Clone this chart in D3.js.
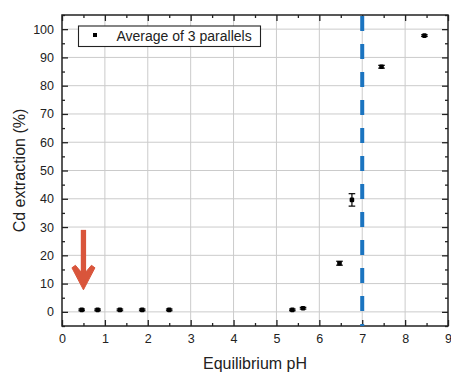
<!DOCTYPE html>
<html>
<head>
<meta charset="utf-8">
<script src="https://cdn.jsdelivr.net/npm/d3@7"></script>
<style>
  body { margin: 0; background: #fff; }
  svg { display: block; font-family: "Liberation Sans", Arial, sans-serif; }
</style>
</head>
<body>
<svg id="chart" width="451" height="373"></svg>
<script>
// data
var phValues = [0.46, 0.83, 1.35, 1.87, 2.50, 5.37, 5.62, 6.47, 6.76, 7.45, 8.45];
var cdExtraction = [0.7, 0.7, 0.7, 0.7, 0.7, 0.7, 1.3, 17.2, 39.6, 86.7, 97.7];
var errValues = [0.3, 0.3, 0.3, 0.3, 0.3, 0.3, 0.3, 0.7, 2.2, 0.5, 0.3];
var xTicks = [0, 1, 2, 3, 4, 5, 6, 7, 8, 9];
var yTicks = [0, 10, 20, 30, 40, 50, 60, 70, 80, 90, 100];
var markerLine = 7;          // dashed reference at pH 7
var arrowX = 0.5, arrowFrom = 29, arrowTo = 7.8;
var legendLabel = "Average of 3 parallels";

var svg = d3.select("#chart");
var padding = {t: 15, r: 3, b: 47, l: 62};
var svgWidth = +svg.attr("width"), svgHeight = +svg.attr("height");

var x = d3.scaleLinear().domain([0, 9]).range([padding.l, svgWidth - padding.r]);
var y = d3.scaleLinear().domain([-5, 105]).range([svgHeight - padding.b, padding.t]);

var x0 = x.range()[0], x1 = x.range()[1];
var y0 = y.range()[0], y1 = y.range()[1];

// grid
svg.append("g").selectAll("line")
	.data(xTicks.filter(function(d) { return d > 0 && d < 9; }))
	.enter().append("line")
	.attr("x1", function(d) { return x(d); }).attr("x2", function(d) { return x(d); })
	.attr("y1", y1).attr("y2", y0)
	.attr("stroke", "#cbcbcb").attr("stroke-width", 1);

svg.append("g").selectAll("line")
	.data(yTicks)
	.enter().append("line")
	.attr("x1", x0).attr("x2", x1)
	.attr("y1", function(d) { return y(d); }).attr("y2", function(d) { return y(d); })
	.attr("stroke", "#cbcbcb").attr("stroke-width", 1);

// axes (ticks pointing inward on all four sides)
var minorX = d3.range(0.5, 9, 1);
var minorY = d3.range(-5, 106, 10);

function styleAxis(g) {
	g.select(".domain").remove();
	g.selectAll(".tick line").attr("stroke", "#222").attr("stroke-width", 1.3);
	g.selectAll(".tick text").attr("fill", "#222").style("font-size", "12.5px");
}

svg.append("g")
	.attr("transform", "translate(0," + y0 + ")")
	.call(d3.axisBottom(x).tickValues(xTicks).tickSize(-6).tickPadding(8).tickFormat(d3.format("d")))
	.call(styleAxis);
svg.append("g")
	.attr("transform", "translate(0," + y0 + ")")
	.call(d3.axisBottom(x).tickValues(minorX).tickSize(-3).tickFormat(""))
	.call(styleAxis);
svg.append("g")
	.attr("transform", "translate(0," + y1 + ")")
	.call(d3.axisTop(x).tickValues(xTicks).tickSize(-6).tickFormat(""))
	.call(styleAxis);
svg.append("g")
	.attr("transform", "translate(0," + y1 + ")")
	.call(d3.axisTop(x).tickValues(minorX).tickSize(-3).tickFormat(""))
	.call(styleAxis);

svg.append("g")
	.attr("transform", "translate(" + x0 + ",0)")
	.call(d3.axisLeft(y).tickValues(yTicks).tickSize(-6).tickPadding(8).tickFormat(d3.format("d")))
	.call(styleAxis);
svg.append("g")
	.attr("transform", "translate(" + x0 + ",0)")
	.call(d3.axisLeft(y).tickValues(minorY).tickSize(-3).tickFormat(""))
	.call(styleAxis);
svg.append("g")
	.attr("transform", "translate(" + x1 + ",0)")
	.call(d3.axisRight(y).tickValues(yTicks).tickSize(-6).tickFormat(""))
	.call(styleAxis);
svg.append("g")
	.attr("transform", "translate(" + x1 + ",0)")
	.call(d3.axisRight(y).tickValues(minorY).tickSize(-3).tickFormat(""))
	.call(styleAxis);

// frame
svg.append("rect")
	.attr("x", x0).attr("y", y1)
	.attr("width", x1 - x0).attr("height", y0 - y1)
	.attr("fill", "none").attr("stroke", "#222").attr("stroke-width", 1.5);

// dashed line at pH 7
svg.append("line")
	.attr("x1", x(markerLine)).attr("x2", x(markerLine))
	.attr("y1", y1 + 1).attr("y2", y0)
	.attr("stroke", "#1b74c0").attr("stroke-width", 4)
	.attr("stroke-dasharray", "15,13");

// data points with error bars
var pts = phValues.map(function(d, i) { return {ph: d, v: cdExtraction[i], e: errValues[i]}; });

var eb = svg.append("g").attr("stroke", "#000").attr("stroke-width", 1.2);
eb.selectAll(".stem").data(pts).enter().append("line")
	.attr("x1", function(d) { return x(d.ph); }).attr("x2", function(d) { return x(d.ph); })
	.attr("y1", function(d) { return y(d.v - d.e); }).attr("y2", function(d) { return y(d.v + d.e); });
eb.selectAll(".capTop").data(pts).enter().append("line")
	.attr("x1", function(d) { return x(d.ph) - 3.3; }).attr("x2", function(d) { return x(d.ph) + 3.3; })
	.attr("y1", function(d) { return y(d.v + d.e); }).attr("y2", function(d) { return y(d.v + d.e); });
eb.selectAll(".capBot").data(pts).enter().append("line")
	.attr("x1", function(d) { return x(d.ph) - 3.3; }).attr("x2", function(d) { return x(d.ph) + 3.3; })
	.attr("y1", function(d) { return y(d.v - d.e); }).attr("y2", function(d) { return y(d.v - d.e); });

svg.append("g").selectAll("rect").data(pts).enter().append("rect")
	.attr("x", function(d) { return x(d.ph) - 2.3; })
	.attr("y", function(d) { return y(d.v) - 2.3; })
	.attr("width", 4.6).attr("height", 4.6)
	.attr("rx", 1.2)
	.attr("fill", "#000");

// red arrow
var ax = x(arrowX), aTop = y(arrowFrom), aTip = y(arrowTo);
svg.append("line")
	.attr("x1", ax).attr("x2", ax)
	.attr("y1", aTop).attr("y2", aTip - 14)
	.attr("stroke", "#d9553b").attr("stroke-width", 5.3);
svg.append("path")
	.attr("d", "M" + ax + "," + aTip +
		"L" + (ax - 11.5) + "," + (aTip - 22) +
		"L" + (ax - 8) + "," + (aTip - 24.5) +
		"L" + ax + "," + (aTip - 15) +
		"L" + (ax + 8) + "," + (aTip - 24.5) +
		"L" + (ax + 11.5) + "," + (aTip - 22) + "Z")
	.attr("fill", "#d9553b")
	.attr("stroke", "#d9553b").attr("stroke-width", 1).attr("stroke-linejoin", "round");

// legend
var leg = svg.append("g");
leg.append("rect")
	.attr("x", 78.5).attr("y", 26).attr("width", 182).attr("height", 20.5)
	.attr("fill", "#fff").attr("stroke", "#222").attr("stroke-width", 1.1);
leg.append("rect")
	.attr("x", 93).attr("y", 33).attr("width", 4).attr("height", 4).attr("fill", "#000");
leg.append("text")
	.attr("x", 116.5).attr("y", 41)
	.style("font-size", "14px").attr("fill", "#222")
	.text(legendLabel);

// axis titles
svg.append("text")
	.attr("x", (x0 + x1) / 2).attr("y", 369)
	.attr("text-anchor", "middle")
	.style("font-size", "16px").attr("fill", "#222")
	.text("Equilibrium pH");

svg.append("text")
	.attr("transform", "translate(25," + ((y0 + y1) / 2 + 0) + ")rotate(-90)")
	.attr("text-anchor", "middle")
	.style("font-size", "16px").attr("fill", "#222")
	.text("Cd extraction (%)");
</script>
</body>
</html>
